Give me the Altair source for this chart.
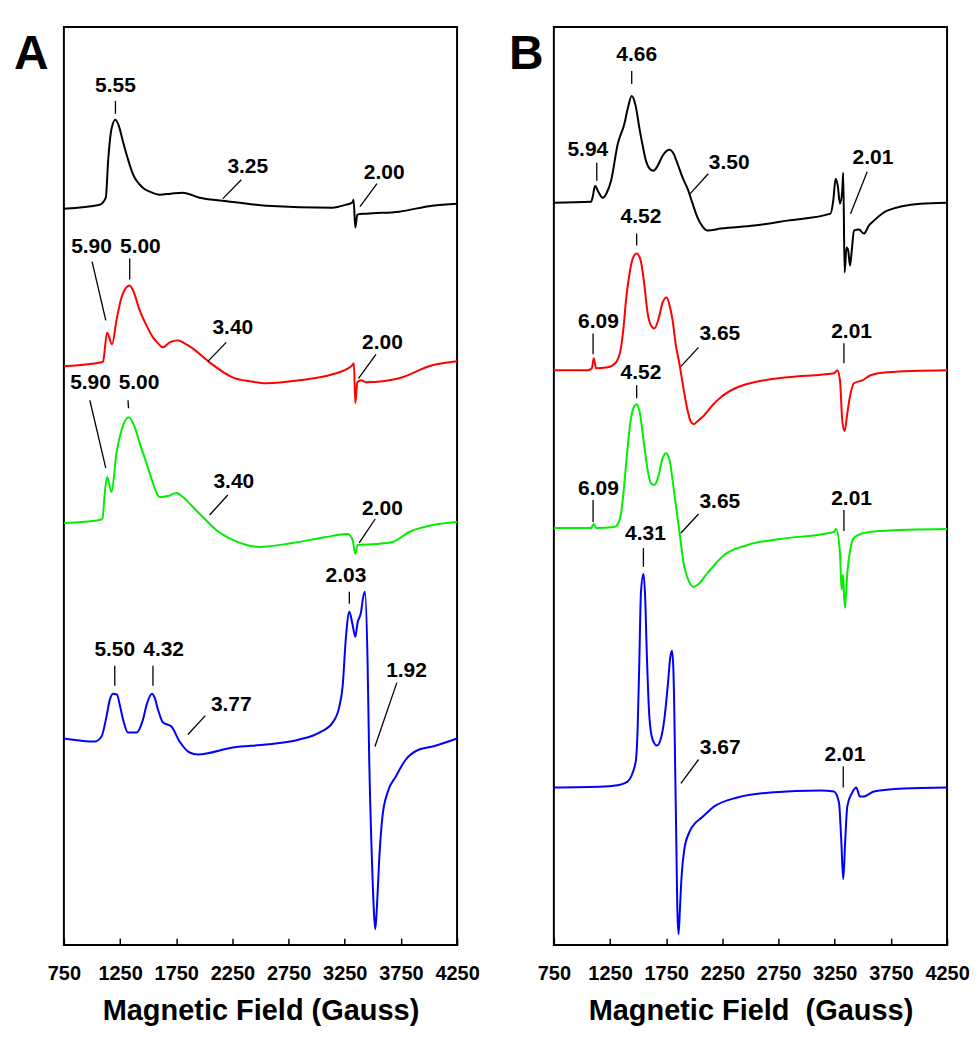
import altair as alt
import pandas as pd

FONT = "Liberation Sans"
TRACES = ["black", "red", "green", "blue"]
COLORS = ["#000000", "#ff0000", "#00ee00", "#0000ff"]
TICKS = [750, 1250, 1750, 2250, 2750, 3250, 3750, 4250]
X_DOMAIN = [750, 4250]
Y_DOMAIN = [0, 920]

# ---------------- Panel A spectra (field in Gauss, signal in a.u.) ----------------
A_BLACK_FIELD = [750, 1070, 1123, 1144, 1174, 1209, 1239, 1274, 1319, 1363, 1452, 1514, 1603, 1700, 1807,
                 1958, 2162, 2553, 3140, 3264, 3317, 3329, 3344, 3362, 3442, 3735, 4028, 4250]
A_BLACK_SIGNAL = [0, 4, 11, 48, 80, 89, 83, 68, 50, 35, 21, 17, 14, 15, 16,
                  11, 8, 3, 1, 4, 6, 9, -19, -6, -5, -3, 3, 5]

A_RED_FIELD = [750, 1085, 1099, 1135, 1179, 1218, 1263, 1334, 1366, 1425, 1485, 1543, 1588, 1632, 1692,
               1765, 1840, 1896, 2047, 2251, 2402, 2553, 2846, 3140, 3308, 3332, 3344, 3362, 3397, 3442,
               3735, 4028, 4250]
A_RED_SIGNAL = [0, 4, 5, 34, 22, 46, 69, 81, 76, 56, 41, 29, 23, 19, 24,
                26, 22, 18, 4, -11, -15, -17, -14, -8, 0, 3, -37, -16, -14, -16,
                -12, 1, 5]

A_GREEN_FIELD = [750, 1070, 1094, 1114, 1135, 1174, 1218, 1263, 1327, 1381, 1425, 1470, 1514, 1558, 1603,
                 1677, 1751, 1810, 1899, 1987, 2106, 2254, 2491, 2787, 3084, 3275, 3320, 3344, 3364, 3528,
                 3675, 3824, 4031, 4250]
A_GREEN_SIGNAL = [0, 3, 5, 30, 46, 31, 70, 93, 106, 96, 80, 65, 50, 35, 26,
                  27, 30, 26, 16, 6, -7, -17, -24, -20, -14, -11, -17, -31, -22, -21,
                  -19, -9, -2, 1]

A_BLUE_FIELD = [750, 892, 1025, 1085, 1129, 1159, 1188, 1223, 1247, 1277, 1321, 1396, 1454, 1487, 1534,
                1558, 1588, 1632, 1707, 1780, 1869, 1943, 2254, 2551, 2846, 3024, 3142, 3202, 3231, 3261,
                3291, 3320, 3344, 3364, 3394, 3415, 3430, 3453, 3468, 3492, 3510, 3522, 3537, 3557, 3586,
                3631, 3705, 3794, 3912, 4031, 4250]
A_BLUE_SIGNAL = [0, -2, -3, 2, 22, 39, 45, 44, 34, 19, 6, 6, 19, 34, 45,
                 41, 29, 16, 12, -3, -14, -16, -9, -6, -1, 6, 16, 32, 52, 102,
                 127, 114, 102, 116, 126, 142, 147, 79, -21, -121, -174, -191, -168, -121, -78,
                 -54, -38, -21, -11, -8, 0]

A_OFFSETS = [738, 580, 423, 207]

# ---------------- Panel B spectra ----------------
B_BLACK_FIELD = [750, 1081, 1096, 1117, 1141, 1185, 1221, 1259, 1319, 1378, 1407, 1443, 1478, 1511, 1541,
                 1570, 1603, 1636, 1674, 1718, 1778, 1816, 1851, 1896, 1940, 1985, 2029, 2074, 2118, 2236,
                 2533, 2829, 3213, 3237, 3258, 3277, 3297, 3317, 3326, 3338, 3355, 3370, 3386, 3402, 3421,
                 3466, 3510, 3554, 3599, 3717, 4013, 4250]
B_BLACK_SIGNAL = [0, 1, 6, 17, 12, 5, 10, 22, 59, 79, 94, 107, 97, 75, 57,
                  42, 34, 32, 37, 47, 53, 49, 39, 25, 14, -1, -15, -24, -28, -26,
                  -23, -18, -11, 2, 24, 17, -1, 12, 30, -70, -45, -48, -63, -48, -28,
                  -27, -31, -23, -18, -8, -1, 0]

B_RED_FIELD = [750, 1052, 1088, 1105, 1126, 1230, 1303, 1348, 1372, 1392, 1425, 1452, 1487, 1523, 1556,
               1585, 1614, 1645, 1683, 1718, 1754, 1780, 1807, 1836, 1867, 1911, 1940, 1967, 1994, 2029,
               2089, 2162, 2236, 2384, 2533, 2829, 3243, 3273, 3297, 3317, 3338, 3362, 3388, 3421, 3495,
               3569, 3717, 4250]
B_RED_SIGNAL = [0, 0, 2, 12, 2, 3, 8, 23, 45, 70, 98, 112, 117, 110, 85,
                57, 45, 42, 52, 68, 73, 65, 50, 25, 7, -23, -40, -51, -54, -51,
                -45, -35, -27, -17, -12, -7, -3, 0, -10, -50, -61, -43, -25, -13, -10,
                -5, -2, 0]

B_GREEN_FIELD = [750, 1081, 1105, 1126, 1289, 1319, 1348, 1372, 1392, 1407, 1434, 1461, 1487, 1514, 1556,
                 1585, 1614, 1645, 1683, 1718, 1748, 1780, 1807, 1836, 1867, 1911, 1940, 1991, 2029, 2118,
                 2266, 2473, 2769, 3243, 3262, 3297, 3311, 3323, 3341, 3362, 3388, 3421, 3510, 3657, 4250]
B_GREEN_SIGNAL = [0, 0, 4, 0, 1, 4, 15, 38, 63, 81, 108, 121, 124, 116, 81,
                  58, 45, 43, 53, 70, 75, 68, 48, 23, -3, -39, -50, -59, -57, -45,
                  -27, -17, -11, -4, -1, -25, -62, -47, -80, -45, -22, -10, -5, -3, -1]

B_BLUE_FIELD = [750, 1200, 1348, 1407, 1452, 1481, 1496, 1511, 1525, 1547, 1561, 1579, 1600, 1629, 1668,
                1700, 1733, 1763, 1787, 1801, 1813, 1822, 1831, 1840, 1849, 1860, 1872, 1887, 1911, 1955,
                2014, 2058, 2178, 2384, 2680, 3124, 3243, 3288, 3308, 3326, 3344, 3362, 3406, 3442, 3474,
                3510, 3599, 3865, 4250]
B_BLUE_SIGNAL = [0, 1, 3, 6, 15, 28, 60, 128, 195, 214, 195, 128, 71, 48, 42,
                 48, 68, 101, 131, 137, 121, 78, 11, -55, -122, -147, -122, -89, -62, -45,
                 -35, -31, -19, -10, -5, -3, -4, -15, -52, -92, -52, -19, -5, 0, -9,
                 -9, -4, -1, 0]

B_OFFSETS = [744, 576, 418, 158]

# ---------------- Annotations (g-values) ----------------
A_LABELS = ["5.55", "3.25", "2.00", "5.90", "5.00", "3.40", "2.00", "5.90", "5.00", "3.40", "2.00",
            "5.50", "4.32", "3.77", "2.03", "1.92"]
A_LABEL_FIELD = [1209, 2387, 3601, 996, 1431, 2254, 3586, 987, 1419, 2263, 3586, 1203, 1638, 2240, 3261, 3800]
A_LABEL_Y = [861, 780, 774, 700, 700, 618, 603, 563, 563, 464, 437, 296, 296, 241, 370, 275]
A_LEAD_X1 = [1209, 2329, 3537, 1001, 1336, 2195, 3528, 981, 1321, 2209, 3521, 1203, 1543, 2009, 3291, 3714]
A_LEAD_Y1 = [846, 767, 763, 685, 688, 604, 592, 546, 546, 451, 427, 280, 280, 230, 354, 263]
A_LEAD_X2 = [1209, 2165, 3386, 1123, 1336, 2032, 3373, 1123, 1325, 2047, 3379, 1203, 1543, 1854, 3291, 3519]
A_LEAD_Y2 = [833, 748, 740, 626, 667, 585, 568, 478, 538, 431, 403, 260, 260, 211, 342, 199]

B_LABELS = ["4.66", "5.94", "3.50", "2.01", "4.52", "6.09", "3.65", "2.01", "4.52", "6.09", "3.65", "2.01",
            "4.31", "3.67", "2.01"]
B_LABEL_FIELD = [1487, 1052, 2311, 3590, 1525, 1147, 2227, 3400, 1525, 1147, 2227, 3400, 1565, 2231, 3341]
B_LABEL_Y = [892, 797, 784, 789, 730, 624, 612, 614, 573, 457, 444, 447, 412, 198, 190]
B_LEAD_X1 = [1443, 1132, 2124, 3539, 1487, 1099, 2038, 3332, 1487, 1099, 2038, 3332, 1547, 2038, 3326]
B_LEAD_Y1 = [876, 784, 773, 775, 713, 613, 599, 603, 561, 446, 432, 436, 398, 186, 179]
B_LEAD_X2 = [1443, 1132, 1964, 3391, 1487, 1099, 1881, 3332, 1487, 1099, 1881, 3332, 1547, 1881, 3326]
B_LEAD_Y2 = [863, 766, 753, 733, 701, 592, 580, 583, 548, 424, 413, 415, 379, 162, 158]


def spectra_frame(fields, signals, offsets):
    rows = []
    for t, (f, s, off) in enumerate(zip(fields, signals, offsets)):
        assert len(f) == len(s), (TRACES[t], len(f), len(s))
        for i, (ff, ss) in enumerate(zip(f, s)):
            rows.append({"field": ff, "y": ss + off, "trace": TRACES[t], "idx": i})
    return pd.DataFrame(rows)


def ann_frame(labels, tx, ty, x1, y1, x2, y2):
    return pd.DataFrame({"label": labels, "tx": tx, "ty": ty,
                         "x1": x1, "y1": y1, "x2": x2, "y2": y2})


def panel(spec_df, ann_df, letter, letter_dx, title):
    xs = alt.Scale(domain=X_DOMAIN, nice=False, zero=False)
    ys = alt.Scale(domain=Y_DOMAIN, nice=False, zero=False)
    xaxis = alt.Axis(values=TICKS, title=title, format="d", grid=False, domain=False,
                     offset=-7, tickSize=7, tickColor="black", tickWidth=1.5,
                     labelFont=FONT, labelFontSize=20, labelFontWeight="bold", labelColor="black",
                     labelPadding=18, labelFlush=False, labelOverlap=False,
                     titleFont=FONT, titleFontSize=29, titleFontWeight="bold", titleColor="black",
                     titlePadding=14)

    def X(f):
        return alt.X(f, type="quantitative", scale=xs, axis=xaxis)

    def Y(f):
        return alt.Y(f, type="quantitative", scale=ys, axis=None)

    lines = alt.Chart(spec_df).mark_line(strokeWidth=2, interpolate="monotone").encode(
        x=X("field"), y=Y("y"),
        color=alt.Color("trace:N", scale=alt.Scale(domain=TRACES, range=COLORS), legend=None),
        order=alt.Order("idx:Q"),
    )
    leaders = alt.Chart(ann_df).mark_rule(color="black", strokeWidth=1.3).encode(
        x=X("x1"), y=Y("y1"), x2="x2:Q", y2="y2:Q"
    )
    labels = alt.Chart(ann_df).mark_text(font=FONT, fontSize=21, fontWeight="bold", color="black",
                                         align="center", baseline="middle").encode(
        x=X("tx"), y=Y("ty"), text="label:N"
    )
    letter_chart = alt.Chart(pd.DataFrame({"letter": [letter]})).mark_text(
        font=FONT, fontSize=48, fontWeight="bold", color="black", align="left", baseline="alphabetic"
    ).encode(x=alt.value(letter_dx), y=alt.value(42), text="letter:N")
    return alt.layer(lines, leaders, labels, letter_chart).properties(width=394, height=920)


dfA = spectra_frame([A_BLACK_FIELD, A_RED_FIELD, A_GREEN_FIELD, A_BLUE_FIELD],
                    [A_BLACK_SIGNAL, A_RED_SIGNAL, A_GREEN_SIGNAL, A_BLUE_SIGNAL], A_OFFSETS)
dfB = spectra_frame([B_BLACK_FIELD, B_RED_FIELD, B_GREEN_FIELD, B_BLUE_FIELD],
                    [B_BLACK_SIGNAL, B_RED_SIGNAL, B_GREEN_SIGNAL, B_BLUE_SIGNAL], B_OFFSETS)
annA = ann_frame(A_LABELS, A_LABEL_FIELD, A_LABEL_Y, A_LEAD_X1, A_LEAD_Y1, A_LEAD_X2, A_LEAD_Y2)
annB = ann_frame(B_LABELS, B_LABEL_FIELD, B_LABEL_Y, B_LEAD_X1, B_LEAD_Y1, B_LEAD_X2, B_LEAD_Y2)

pA = panel(dfA, annA, "A", -50, "Magnetic Field (Gauss)")
pB = panel(dfB, annB, "B", -45, "Magnetic Field\u00a0 (Gauss)")

chart = alt.hconcat(pA, pB, spacing=97, bounds="flush").properties(
    padding={"left": 5, "top": 17, "right": 0, "bottom": 5}
).configure_view(stroke="black", strokeWidth=2)

chart.save("out.html", embed_options={"renderer": "svg", "actions": False})
